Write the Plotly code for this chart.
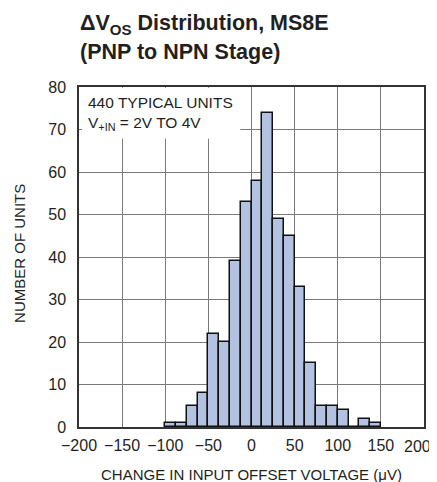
import plotly.graph_objects as go

# Data (bin width 12.5 uV)
bin_left_edges = [-100, -87.5, -75, -62.5, -50, -37.5, -25, -12.5, 0, 12.5,
                  25, 37.5, 50, 62.5, 75, 87.5, 100, 112.5, 125, 137.5]
unit_counts = [1, 1, 5, 8, 22, 20, 39, 53, 58, 74,
               49, 45, 33, 15, 5, 5, 4, 0, 2, 1]
bin_width = 12.5
x_tick_vals = [-200, -150, -100, -50, 0, 50, 100, 150, 200]
x_tick_text = ["\u2212200", "\u2212150", "\u2212100", "\u221250", "0", "50", "100", "150", "200"]
y_tick_vals = [0, 10, 20, 30, 40, 50, 60, 70, 80]

FONT = "Liberation Sans, Arial, sans-serif"
TXT = "#231f20"

centers = [e + bin_width / 2 for e in bin_left_edges]
# the last label sits flush at the right edge, drawn right-aligned below
axis_tick_text = x_tick_text[:-1] + [""]

fig = go.Figure()
fig.add_trace(go.Bar(
    x=centers, y=unit_counts, width=bin_width,
    marker=dict(color="#b3c2e1", line=dict(color="#111111", width=1.5)),
    showlegend=False, hoverinfo="skip",
))

# page body has an 8px default margin, so the figure is sized/offset to compensate
fig.update_layout(
    width=429, height=474,
    margin=dict(l=71, r=13, t=79, b=55, autoexpand=False),
    paper_bgcolor="white", plot_bgcolor="white",
    font=dict(family=FONT, color=TXT, size=16),
    bargap=0,
    xaxis=dict(
        range=[-200, 200], tickvals=x_tick_vals, ticktext=axis_tick_text,
        showgrid=True, gridcolor="#7a7a7a", gridwidth=1,
        showline=True, linecolor="#333333", linewidth=1.5, mirror=True,
        ticks="", zeroline=False, tickfont=dict(size=16, family=FONT, color=TXT),
        ticklabelstandoff=3, ticklabeloverflow="allow", automargin=False,
    ),
    yaxis=dict(
        range=[0, 80], tickvals=y_tick_vals,
        showgrid=True, gridcolor="#7a7a7a", gridwidth=1,
        showline=True, linecolor="#333333", linewidth=1.5, mirror=True,
        ticks="", zeroline=False, tickfont=dict(size=16, family=FONT, color=TXT),
        ticklabelstandoff=8, ticklabeloverflow="allow", automargin=False,
    ),
)

fig.add_annotation(xref="x", yref="paper", x=x_tick_vals[-1], y=0, xanchor="right",
                   yanchor="middle", xshift=9, yshift=-19, text=x_tick_text[-1],
                   showarrow=False, font=dict(size=16, family=FONT, color=TXT))

# white box behind the conditions text
fig.add_shape(type="rect", xref="x", yref="y", x0=-196.5, x1=-13, y0=67.8, y1=79.8,
              fillcolor="white", line=dict(width=0), layer="between")

fig.add_annotation(xref="x", yref="y", x=-192, y=76.4, xanchor="left", yanchor="middle",
                   text="440 TYPICAL UNITS", showarrow=False,
                   font=dict(size=15.5, family=FONT, color=TXT))
fig.add_annotation(xref="x", yref="y", x=-192, y=71.5, xanchor="left", yanchor="middle",
                   text="V<sub>+IN</sub> = 2V TO 4V", showarrow=False,
                   font=dict(size=15.5, family=FONT, color=TXT))

# axis titles
fig.add_annotation(xref="paper", yref="paper", x=0.5, y=0, xanchor="center", yanchor="middle",
                   yshift=-47, text="CHANGE IN INPUT OFFSET VOLTAGE (\u03bcV)", showarrow=False,
                   font=dict(size=15, family=FONT, color=TXT))
fig.add_annotation(xref="paper", yref="paper", x=0, y=0.509, xanchor="center", yanchor="middle",
                   xshift=-59, textangle=-90, text="NUMBER OF UNITS", showarrow=False,
                   font=dict(size=15, family=FONT, color=TXT))

# title (two lines)
fig.add_annotation(xref="paper", yref="paper", x=0, y=1, xanchor="left", yanchor="middle",
                   yshift=63, xshift=-1,
                   text="<b>\u0394V<sub>OS</sub> Distribution, MS8E</b>",
                   showarrow=False, font=dict(size=21.5, family=FONT, color=TXT))
fig.add_annotation(xref="paper", yref="paper", x=0, y=1, xanchor="left", yanchor="middle",
                   yshift=35, xshift=-1,
                   text="<b>(PNP to NPN Stage)</b>",
                   showarrow=False, font=dict(size=21.5, family=FONT, color=TXT))

fig.write_html("out.html")
